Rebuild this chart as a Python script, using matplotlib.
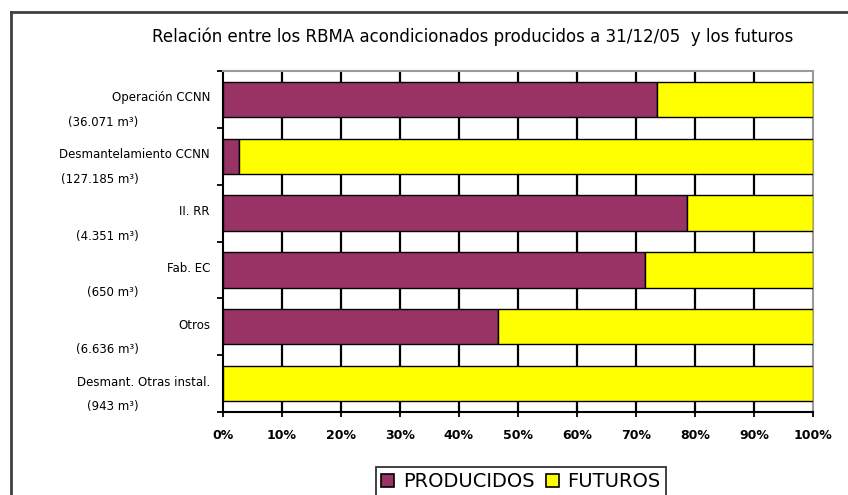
import matplotlib
matplotlib.use("Agg")
import matplotlib.pyplot as plt
from matplotlib.patches import Patch
from matplotlib.lines import Line2D
import numpy as np

plt.rcParams['font.family'] = ['DejaVu Sans']

categories = ["Operación CCNN", "Desmantelamiento CCNN", "II. RR", "Fab. EC",
              "Otros", "Desmant. Otras instal."]
volumes = ["(36.071 m³)", "(127.185 m³)", "(4.351 m³)", "(650 m³)",
           "(6.636 m³)", "(943 m³)"]
producidos = [0.735, 0.028, 0.786, 0.715, 0.466, 0.0]
futuros = [1 - p for p in producidos]
xticks = [0.0, 0.1, 0.2, 0.3, 0.4, 0.5, 0.6, 0.7, 0.8, 0.9, 1.0]
xticklabels = ["0%", "10%", "20%", "30%", "40%", "50%", "60%", "70%", "80%", "90%", "100%"]
series_names = ["PRODUCIDOS", "FUTUROS"]
title = "Relación entre los RBMA acondicionados producidos a 31/12/05  y los futuros"

c_prod = "#993366"
c_fut = "#FFFF00"

W, H = 848, 495
fig = plt.figure(figsize=(W / 100, H / 100), dpi=100)
fig.patch.set_facecolor("white")

left, right, top, bottom = 222.7, 813.0, 71.0, 412.0
ax = fig.add_axes([left / W, 1 - bottom / H, (right - left) / W, (bottom - top) / H])

y = np.arange(len(categories))
ax.barh(y, producidos, height=0.62, color=c_prod, edgecolor="black", linewidth=1.0, zorder=3)
ax.barh(y, futuros, left=producidos, height=0.62, color=c_fut, edgecolor="black",
        linewidth=1.0, zorder=3)

ax.set_xlim(0, 1)
ax.set_ylim(len(categories) - 0.5, -0.5)

for xv in xticks[1:-1]:
    ax.axvline(xv, color="black", linewidth=1.6, zorder=1)

ax.set_xticks(xticks)
ax.set_xticklabels(xticklabels, fontsize=9, fontweight="bold")
ax.tick_params(axis="x", direction="out", length=3.5, width=1.3, pad=9, color="black")
ax.set_yticks(np.arange(-0.5, len(categories), 1.0))
ax.set_yticklabels([])
ax.tick_params(axis="y", direction="out", length=4, width=1.3, color="black")

for side in ["left", "bottom"]:
    ax.spines[side].set_color("black")
    ax.spines[side].set_linewidth(1.5)
for side in ["top", "right"]:
    ax.spines[side].set_color("#9a9a9a")
    ax.spines[side].set_linewidth(1.5)

trans = ax.get_yaxis_transform()
px = 0.72
for i, (cat, vol) in enumerate(zip(categories, volumes)):
    ax.annotate(cat, xy=(0, i), xycoords=trans, xytext=(-12.7 * px, 1.5 * px),
                textcoords="offset points", ha="right", va="center", fontsize=8.5,
                annotation_clip=False)
    ax.annotate(vol, xy=(0, i), xycoords=trans, xytext=(-84 * px, -23 * px),
                textcoords="offset points", ha="right", va="center", fontsize=8.5,
                annotation_clip=False)

fig.text(473 / W, 1 - 37 / H, title, ha="center", va="center", fontsize=12)

handles = [Patch(facecolor=c_prod, edgecolor="black", linewidth=1.2),
           Patch(facecolor=c_fut, edgecolor="black", linewidth=1.2)]
leg = fig.legend(handles, series_names, loc="upper center",
                 bbox_to_anchor=(521 / W, 1 - 467 / H), ncol=2, fontsize=14,
                 frameon=True, fancybox=False, handlelength=0.65, handleheight=0.65,
                 handletextpad=0.45, columnspacing=0.6, borderpad=0.25, borderaxespad=0)
leg.get_frame().set_edgecolor("black")
leg.get_frame().set_linewidth(1.3)

fig.add_artist(Line2D([10.5 / W, 10.5 / W], [0, 1 - 11.5 / H], transform=fig.transFigure,
                      color="#404040", linewidth=2))
fig.add_artist(Line2D([10.5 / W, 1], [1 - 11.5 / H, 1 - 11.5 / H], transform=fig.transFigure,
                      color="#404040", linewidth=2))

fig.savefig("out.png", dpi=100, facecolor="white")
